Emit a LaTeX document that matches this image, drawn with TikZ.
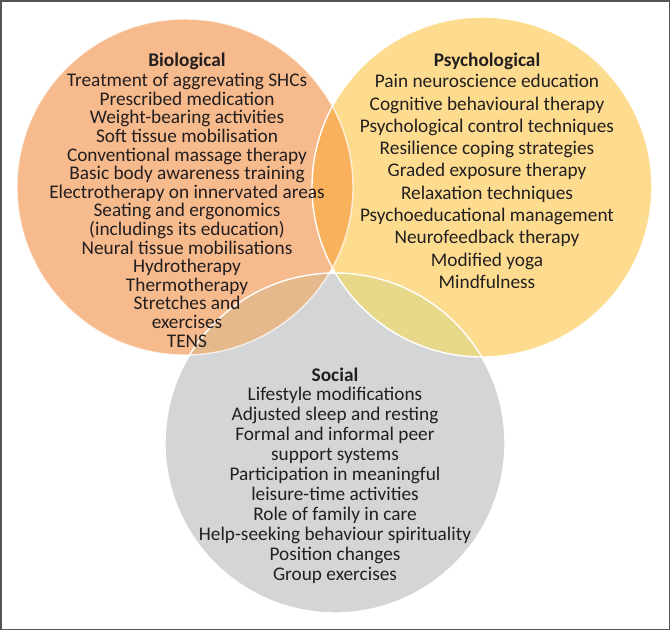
\documentclass[tikz,border=0pt]{standalone}
\usepackage{fontspec}
\setmainfont{Carlito}
\usepackage{tikz}

\definecolor{bioorange}{HTML}{F7BA8D}
\definecolor{psyyellow}{HTML}{FEDC8F}
\definecolor{socgrey}{HTML}{D4D5D7}
\definecolor{biopsy}{HTML}{F9B15B}
\definecolor{biosoc}{HTML}{E5B98C}
\definecolor{psysoc}{HTML}{E8D98A}
\definecolor{textgrey}{HTML}{231F20}
\definecolor{framegrey}{HTML}{555555}

\tikzset{
  circleline/.style={draw=white, line width=1.4pt},
  listtext/.style={align=center, text=textgrey, inner sep=0pt, anchor=north},
}

\begin{document}
\begin{tikzpicture}[x=1pt, y=-1pt]
            \useasboundingbox (0,0) rectangle (670,630);
            \coordinate (B) at (185,187);
            \coordinate (P) at (482,187);
            \coordinate (S) at (335,443);
            % circles
            \fill[bioorange] (B) circle[radius=168pt];
            \fill[psyyellow] (P) circle[radius=170pt];
            \fill[socgrey] (S) circle[radius=170pt];
            % overlaps
            \begin{scope}
                \clip (B) circle[radius=168pt];
                \fill[biopsy] (P) circle[radius=170pt];
                \fill[biosoc] (S) circle[radius=170pt];
            \end{scope}
            \begin{scope}
                \clip (P) circle[radius=170pt];
                \fill[psysoc] (S) circle[radius=170pt];
            \end{scope}
            \draw[circleline, opacity=0.7] (B) circle[radius=168pt];
            \draw[circleline] (P) circle[radius=170pt];
            \draw[circleline] (S) circle[radius=170pt];
            % texts
            \node[listtext, font=\fontsize{19.3}{18.6}\selectfont] (biotext) at (187,53) {%
                \textbf{Biological}\\[1.4pt]
                Treatment of aggrevating SHCs\\
                Prescribed medication\\
                Weight-bearing activities\\
                Soft tissue mobilisation\\
                Conventional massage therapy\\
                Basic body awareness training\\
                Electrotherapy on innervated areas\\
                Seating and ergonomics\\
                (includings its education)\\
                Neural tissue mobilisations\\
                Hydrotherapy\\
                Thermotherapy\\
                Stretches and\\
                exercises\\
                TENS};
            \node[listtext, font=\fontsize{19.3}{22.3}\selectfont] (psytext) at (487,53) {%
                \textbf{Psychological}\\[-1.3pt]
                Pain neuroscience education\\
                Cognitive behavioural therapy\\
                Psychological control techniques\\
                Resilience coping strategies\\
                Graded exposure therapy\\
                Relaxation techniques\\
                Psychoeducational management\\
                Neurofeedback therapy\\
                Modified yoga\\
                Mindfulness};
            \node[listtext, font=\fontsize{19.3}{20}\selectfont] (soctext) at (335,368) {%
                \textbf{Social}\\[-1pt]
                Lifestyle modifications\\
                Adjusted sleep and resting\\
                Formal and informal peer\\
                support systems\\
                Participation in meaningful\\
                leisure-time activities\\
                Role of family in care\\
                Help-seeking behaviour spirituality\\
                Position changes\\
                Group exercises};
            % frame
            \draw[framegrey, line width=1.5pt] (0.75,0.75) rectangle (669.25,629.25);
        \end{tikzpicture}
\end{document}
